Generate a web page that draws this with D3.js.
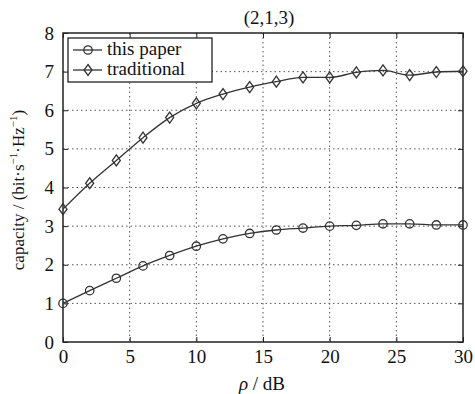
<!DOCTYPE html>
<html><head><meta charset="utf-8">
<script src="https://cdn.jsdelivr.net/npm/d3@7"></script>
<style>body{margin:0;background:#fff}svg{display:block}svg text{font-family:"Liberation Serif","Times New Roman",serif !important;fill:#111}</style>
</head><body>
<svg id="c" width="475" height="394"></svg>
<script>
const snr = [0,2,4,6,8,10,12,14,16,18,20,22,24,26,28,30];
const thisPaper = [1.0,1.33,1.65,1.97,2.24,2.48,2.67,2.81,2.90,2.95,3.00,3.02,3.06,3.06,3.03,3.03];
const traditional = [3.44,4.11,4.70,5.29,5.81,6.18,6.42,6.60,6.74,6.85,6.85,6.98,7.03,6.91,6.99,7.01];
const xTicks = [0,5,10,15,20,25,30];
const yTicks = [0,1,2,3,4,5,6,7,8];
const seriesNames = ["this paper","traditional"];

const svg = d3.select("#c");
const L=63, R=463, T=33, B=342;
const x = d3.scaleLinear().domain([0,30]).range([L,R]);
const y = d3.scaleLinear().domain([0,8]).range([B,T]);

const g = svg.append("g");
g.selectAll(".vg").data(xTicks.slice(1,-1)).enter().append("line")
 .attr("x1",d=>x(d)).attr("x2",d=>x(d)).attr("y1",T).attr("y2",B)
 .attr("stroke","#555").attr("stroke-width",1).attr("stroke-dasharray","1.5,3");
g.selectAll(".hg").data(yTicks.slice(1,-1)).enter().append("line")
 .attr("y1",d=>y(d)).attr("y2",d=>y(d)).attr("x1",L).attr("x2",R)
 .attr("stroke","#555").attr("stroke-width",1).attr("stroke-dasharray","1.5,3");

const ax = svg.append("g").attr("transform",`translate(0,${B})`).call(d3.axisBottom(x).tickValues(xTicks).tickSize(-5).tickPadding(8).tickSizeOuter(0));
const axT = svg.append("g").attr("transform",`translate(0,${T})`).call(d3.axisTop(x).tickValues(xTicks).tickSize(-5).tickFormat("").tickSizeOuter(0));
const ay = svg.append("g").attr("transform",`translate(${L},0)`).call(d3.axisLeft(y).tickValues(yTicks).tickSize(-5).tickPadding(9).tickSizeOuter(0));
const ayR = svg.append("g").attr("transform",`translate(${R},0)`).call(d3.axisRight(y).tickValues(yTicks).tickSize(-5).tickFormat("").tickSizeOuter(0));
[ax,axT,ay,ayR].forEach(a=>{a.attr("font-family",null).attr("font-size",null);a.select(".domain").remove();a.selectAll("line").attr("stroke","#222");a.selectAll("text").attr("font-size",19).attr("fill","#111");});
svg.append("rect").attr("x",L).attr("y",T).attr("width",R-L).attr("height",B-T).attr("fill","none").attr("stroke","#222").attr("stroke-width",1.5);

const line = d3.line().x((d,i)=>x(snr[i])).y(d=>y(d)).curve(d3.curveMonotoneX);
const col="#333";
function drawSeries(vals, marker){
  svg.append("path").datum(vals).attr("d",line).attr("fill","none").attr("stroke",col).attr("stroke-width",1.3);
  const s = svg.append("g");
  vals.forEach((v,i)=>drawMarker(s,x(snr[i]),y(v),marker));
}
function drawMarker(s,cx,cy,m){
  if(m==="circle") s.append("circle").attr("cx",cx).attr("cy",cy).attr("r",4.2).attr("fill","none").attr("stroke",col).attr("stroke-width",1.3);
  else s.append("path").attr("d",`M${cx},${cy-5.5}L${cx+4},${cy}L${cx},${cy+5.5}L${cx-4},${cy}Z`).attr("fill","none").attr("stroke",col).attr("stroke-width",1.3);
}
drawSeries(thisPaper,"circle");
drawSeries(traditional,"diamond");

const lg = svg.append("g");
lg.append("rect").attr("x",68).attr("y",38).attr("width",144).attr("height",44).attr("fill","#fff").attr("stroke","#222").attr("stroke-width",1.3);
seriesNames.forEach((n,i)=>{
  const yy = 50 + i*20;
  lg.append("line").attr("x1",73).attr("x2",102).attr("y1",yy).attr("y2",yy).attr("stroke",col).attr("stroke-width",1.3);
  drawMarker(lg,88,yy,i===0?"circle":"diamond");
  lg.append("text").attr("x",107).attr("y",yy+5).attr("font-size",19).text(n);
});

svg.append("text").attr("x",269).attr("y",24).attr("text-anchor","middle").attr("font-size",19).text("(2,1,3)");
const xl = svg.append("text").attr("x",262).attr("y",390).attr("text-anchor","middle").attr("font-size",19);
xl.append("tspan").attr("font-style","italic").text("ρ");
xl.append("tspan").text(" / dB");
const yl = svg.append("text").attr("transform","translate(24,190) rotate(-90)").attr("text-anchor","middle").attr("font-size",17);
yl.append("tspan").text("capacity / (bit·s");
yl.append("tspan").attr("font-size",11).attr("dy",-7).text("−1");
yl.append("tspan").attr("dy",7).text("·Hz");
yl.append("tspan").attr("font-size",11).attr("dy",-7).text("−1");
yl.append("tspan").attr("dy",7).text(")");
</script>
</body></html>
